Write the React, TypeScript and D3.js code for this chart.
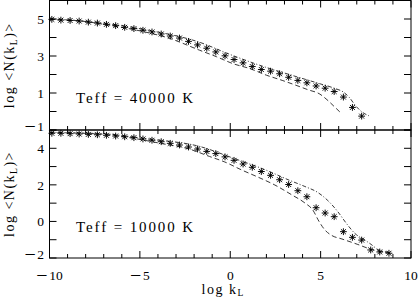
import React from 'react';
import * as d3 from 'd3';

// log k_L positions of the asterisks (shared by both panels)
const logK = [
  -9.87, -9.37, -8.86, -8.36, -7.85, -7.35, -6.85, -6.34, -5.84, -5.33,
  -4.83, -4.33, -3.82, -3.32, -2.81, -2.31, -1.81, -1.30, -0.80, -0.29,
  0.21, 0.71, 1.22, 1.72, 2.23, 2.73, 3.23, 3.74, 4.24, 4.75,
  5.25, 5.75, 6.26, 6.76, 7.27, 7.77, 8.27, 8.78,
];

// Teff = 40000 K
const hotStars = [
  4.98, 4.94, 4.92, 4.89, 4.83, 4.78, 4.71, 4.64, 4.55, 4.48,
  4.39, 4.30, 4.19, 4.08, 3.97, 3.79, 3.60, 3.42, 3.22, 3.01,
  2.81, 2.63, 2.43, 2.27, 2.18, 2.04, 1.85, 1.68, 1.55, 1.38,
  1.26, 1.08, 0.78, 0.22, -0.25,
];
const hotUpper = [
  [-10, 5.02], [-7.23, 4.8], [-4.46, 4.38], [-1.69, 3.74], [-0.03, 3.09],
  [1.63, 2.5], [3.3, 1.99], [4.96, 1.5], [5.84, 1.23], [6.23, 1.07],
  [6.57, 0.78], [6.95, 0.29], [7.34, -0.06], [7.67, -0.23],
];
const hotLower = [
  [-10, 4.99], [-8.34, 4.9], [-6.68, 4.66], [-5.01, 4.36], [-3.35, 3.95],
  [-1.69, 3.31], [-0.76, 2.96], [0.14, 2.59], [1.08, 2.32], [2.01, 1.96],
  [2.91, 1.67], [3.63, 1.42], [4.29, 1.18], [4.96, 0.94], [5.35, 0.64],
  [5.73, 0.29], [6.07, -0.03],
];

// Teff = 10000 K
const coolStars = [
  4.82, 4.82, 4.80, 4.78, 4.76, 4.74, 4.71, 4.67, 4.63, 4.58,
  4.51, 4.44, 4.36, 4.27, 4.18, 4.07, 3.96, 3.83, 3.71, 3.53,
  3.34, 3.14, 2.96, 2.73, 2.52, 2.28, 2.02, 1.68, 1.35, 0.75,
  0.46, 0.26, -0.56, -0.87, -1.02, -1.56, -1.67, -1.74,
];
const coolUpper = [
  [-10, 4.87], [-7.23, 4.81], [-4.46, 4.5], [-1.69, 4.1], [0.14, 3.47],
  [2.02, 2.79], [3.3, 2.24], [4.13, 1.91], [4.85, 1.58], [5.4, 1.14],
  [5.96, 0.52], [6.45, -0.14], [6.9, -0.66], [7.45, -1.02], [7.84, -1.29],
  [8.17, -1.54], [8.84, -1.7],
];
const coolLower = [
  [-10, 4.86], [-7.23, 4.78], [-5.57, 4.58], [-3.91, 4.28], [-2.24, 3.95],
  [-1.14, 3.55], [-0.3, 3.25], [0.64, 2.81], [1.52, 2.43], [2.47, 1.99],
  [3.41, 1.45], [4.13, 1.01], [4.57, 0.62], [4.9, 0.02], [5.24, -0.47],
  [5.62, -0.77], [6.18, -0.96], [7.06, -1.26], [7.84, -1.54], [8.28, -1.64],
  [8.84, -1.71],
];

const xTicks = [-10, -5, 0, 5, 10];
const hotTicks = [-1, 1, 3, 5];
const coolTicks = [-2, 0, 2, 4];

const W = 419, H = 301;
const left = 49.5, right = 411;
const font = "'Liberation Serif', serif";

const x = d3.scaleLinear().domain([-10, 10]).range([left, right]);

function Label({ v, px, py, anchor }) {
  const txt = String(Math.abs(v));
  return (
    <text x={px} y={py} textAnchor={anchor} fontSize={13.5} fontFamily={font} fill="#000">
      {v < 0 ? <tspan fontSize={20} dy={1.7}>−</tspan> : null}
      <tspan dy={v < 0 ? -1.7 : 0} dx={v < 0 ? 1.5 : 0}>{txt}</tspan>
    </text>
  );
}

function Star({ cx, cy }) {
  const r = 3.4, d = r * 0.72;
  return (
    <g transform={`translate(${cx},${cy})`} stroke="#000" strokeWidth={0.95}>
      <line x1={-r} x2={r} y1={0} y2={0} />
      <line x1={0} x2={0} y1={-r} y2={r} />
      <line x1={-d} x2={d} y1={-d} y2={d} />
      <line x1={-d} x2={d} y1={d} y2={-d} />
    </g>
  );
}

function Panel({ top, bottom, domain, ticks, stars, upper, lower, teff, showX }) {
  const y = d3.scaleLinear().domain(domain).range([bottom, top]);
  const line = d3.line().x(d => x(d[0])).y(d => y(d[1])).curve(d3.curveMonotoneX);
  const yMinor = d3.range(Math.ceil(domain[0]), Math.floor(domain[1]) + 1);
  const xMinor = d3.range(-10, 11);
  const mid = (top + bottom) / 2;
  return (
    <g>
      <rect x={left} y={top} width={right - left} height={bottom - top} fill="none" stroke="#000" strokeWidth={1} />
      {yMinor.map(v => (
        <g key={'y' + v} stroke="#000" strokeWidth={1}>
          <line x1={left} x2={left + 7} y1={y(v)} y2={y(v)} />
          <line x1={right} x2={right - 7} y1={y(v)} y2={y(v)} />
        </g>
      ))}
      {xMinor.map(v => {
        const len = v % 5 === 0 ? 7 : 4;
        return (
          <g key={'x' + v} stroke="#000" strokeWidth={1}>
            <line x1={x(v)} x2={x(v)} y1={bottom} y2={bottom - len} />
            <line x1={x(v)} x2={x(v)} y1={top} y2={top + len} />
          </g>
        );
      })}
      {ticks.map(v => (
        <Label key={'l' + v} v={v} px={44} py={Math.min(y(v), bottom - 3.5) + 4.7} anchor="end" />
      ))}
      <path d={line(upper)} fill="none" stroke="#222" strokeWidth={0.9} strokeDasharray="4,2,1,2" />
      <path d={line(lower)} fill="none" stroke="#222" strokeWidth={0.9} strokeDasharray="5,3" />
      {stars.map((v, i) => <Star key={i} cx={x(logK[i])} cy={y(v)} />)}
      <text x={76} y={top + (teff === '40000' ? 102.2 : 102.3)} fontSize={15} fontFamily={font}
        textLength={117} lengthAdjust="spacing">{`Teff = ${teff} K`}</text>
      <text transform={`translate(14,${mid}) rotate(-90)`} textAnchor="middle" fontSize={14}
        fontFamily={font} letterSpacing={1.5}>
        log &lt;N(k<tspan fontSize={9.5} dy={2.5}>L</tspan><tspan dy={-2.5}>)&gt;</tspan>
      </text>
      {showX && xTicks.map(v => (
        <Label key={'xl' + v} v={v} px={x(v)} py={280} anchor="middle" />
      ))}
    </g>
  );
}

export default function App() {
  return (
    <svg width={W} height={H} style={{ position: 'absolute', left: 0, top: 0, background: '#fff' }}>
      <rect width={W} height={H} fill="#fff" />
      <Panel top={0.5} bottom={130} domain={[-1, 6]} ticks={hotTicks} stars={hotStars}
        upper={hotUpper} lower={hotLower} teff="40000" showX={false} />
      <Panel top={130} bottom={258} domain={[-2, 5]} ticks={coolTicks} stars={coolStars}
        upper={coolUpper} lower={coolLower} teff="10000" showX={true} />
      <text x={201.5} y={293.5} fontSize={14} fontFamily={font} letterSpacing={1.5}>
        log k<tspan fontSize={9.5} dy={2.5}>L</tspan>
      </text>
    </svg>
  );
}
